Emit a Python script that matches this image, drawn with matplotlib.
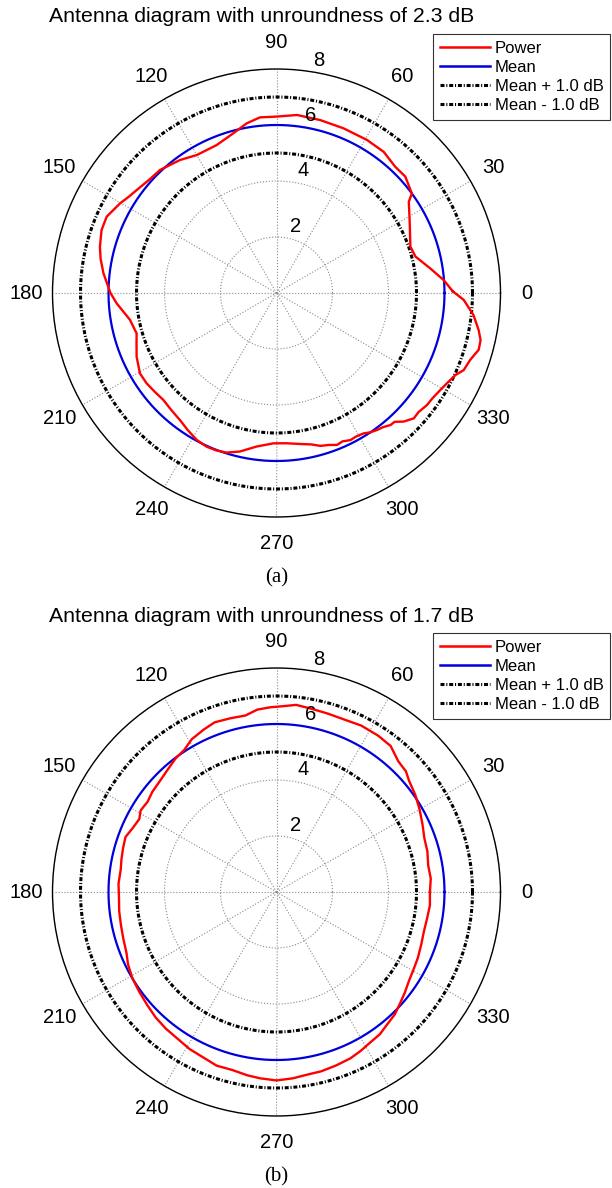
import numpy as np
import matplotlib.pyplot as plt
from matplotlib.lines import Line2D

plt.rcParams['font.family'] = ['Liberation Sans', 'DejaVu Sans']

#Datos panel (a): angulo en grados, potencia
ang_a = [0.5, 4.4, 9.1, 14.7, 19.1, 24, 28.7, 34.6, 36.3, 42.1, 46.8, 52.8, 59.4, 67.8, 75.8, 83.4,
         90, 95.4, 100, 105.1, 112, 120, 126, 133.4, 138, 143.6, 147, 150.2, 155.8, 160.2, 165.3,
         169, 173.5, 180, 183.7, 190.4, 196.1, 200, 204.5, 210.5, 214.8, 219, 223.4, 228, 232.8,
         237, 241.5, 245.6, 249, 252.7, 257, 262.6, 268.8, 274, 279, 283, 286, 289, 291.7, 294,
         296.7, 299, 301.8, 304, 306.3, 308.5, 310.8, 312.5, 314.7, 317.6, 320, 323.3, 326,
         329.4, 333.4, 335.5, 337.6, 341, 344.3, 347, 349.6, 353.6, 357.9]
pot_a = [6.30, 5.99, 5.56, 5.13, 5.06, 5.22, 5.42, 5.74, 6.00, 6.20, 6.19, 6.33, 6.35, 6.35, 6.37, 6.40,
         6.30, 6.30, 6.15, 5.91, 5.70, 5.69, 5.87, 6.05, 6.08, 6.20, 6.30, 6.44, 6.65, 6.64, 6.52,
         6.40, 6.22, 5.93, 5.72, 5.32, 5.20, 5.32, 5.49, 5.66, 5.65, 5.60, 5.56, 5.62, 5.70,
         5.83, 5.97, 6.03, 6.02, 5.97, 5.81, 5.53, 5.37, 5.38, 5.46, 5.55, 5.68, 5.74, 5.84, 5.80,
         5.88, 5.86, 5.90, 6.00, 6.07, 6.12, 6.23, 6.24, 6.46, 6.64, 6.62, 6.70, 6.72,
         6.80, 6.94, 7.04, 7.23, 7.32, 7.50, 7.48, 7.34, 7.08, 6.69]
media_a = 6.0
unround_a = 2.3

#Datos panel (b)
ang_b = [0, 5, 10, 15, 20, 25, 30, 35, 40, 43, 47, 52, 57, 63, 68, 74, 79, 84, 88, 92, 96, 100,
         105, 110, 114, 119, 123, 127, 132, 137, 141, 145, 149, 152, 156, 160, 164, 168, 172,
         177, 182, 187, 192, 197, 202, 206, 211, 216, 221, 226, 231, 236, 241, 246, 251, 256,
         261, 265, 270, 275, 279, 284, 289, 294, 298, 302, 306, 310, 314, 318, 322, 326, 330,
         335, 340, 345, 350, 355]
pot_b = [5.48, 5.53, 5.50, 5.58, 5.62, 5.75, 5.90, 6.05, 6.18, 6.32, 6.38, 6.62, 6.66, 6.67, 6.62,
         6.63, 6.66, 6.72, 6.64, 6.60, 6.55, 6.40, 6.42, 6.45, 6.36, 6.24, 6.05, 5.98, 5.84, 5.74,
         5.70, 5.62, 5.66, 5.55, 5.62, 5.74, 5.70, 5.66, 5.62, 5.65, 5.63, 5.66, 5.68, 5.72, 5.78,
         5.90, 6.00, 6.06, 6.13, 6.22, 6.28, 6.32, 6.41, 6.46, 6.56, 6.55, 6.63, 6.68, 6.73, 6.68,
         6.62, 6.60, 6.55, 6.50, 6.42, 6.33, 6.28, 6.16, 6.08, 5.94, 5.82, 5.70, 5.63, 5.57, 5.50,
         5.45, 5.46, 5.50]
media_b = 6.0
unround_b = 1.7

delta = 1.0
rticks = [2, 4, 6, 8]
tticks = [0, 30, 60, 90, 120, 150, 180, 210, 240, 270, 300, 330]

W, H = 612, 1188
fig = plt.figure(figsize=(W / 100, H / 100), dpi=100)


def panel(ang, pot, media, unround, cy, letra):
    #cy = centro vertical del polar en pixeles desde arriba
    R = 224
    ax = fig.add_axes([(276.5 - R) / W, (H - cy - R) / H, 2 * R / W, 2 * R / H], projection='polar')
    th = np.deg2rad(np.append(ang, ang[0]))
    rr = np.append(pot, pot[0])
    tc = np.deg2rad(np.arange(0, 361))
    ax.plot(th, rr, color='#ff0000', linewidth=1.7, zorder=5)
    ax.plot(tc, np.full(tc.size, media), color='#0000dd', linewidth=1.6, zorder=4)
    dash = (0, (1.3, 0.6, 0.35, 0.6))
    ax.plot(tc, np.full(tc.size, media + delta), color='black', linewidth=2.2, linestyle=dash, zorder=3)
    ax.plot(tc, np.full(tc.size, media - delta), color='black', linewidth=2.2, linestyle=dash, zorder=3)
    ax.set_ylim(0, 8)
    ax.set_rgrids(rticks, labels=[''] * len(rticks))
    ax.set_thetagrids(tticks, [str(t) for t in tticks], fontsize=14.5)
    ax.tick_params(axis='x', pad=12, length=0)
    ax.grid(True, color='#8a8a8a', linestyle=':', linewidth=0.8)
    ax.spines['polar'].set_linewidth(1.0)
    #etiquetas radiales
    for r in rticks:
        ax.annotate(str(r), xy=(np.deg2rad(82), r), xytext=(8, 8), textcoords='offset points',
                    ha='center', va='center', fontsize=14.5, zorder=6)
    #titulo y leyenda
    fig.text(261.5 / W, 1 - (cy - 276) / H, 'Antenna diagram with unroundness of %.1f dB' % unround,
             ha='center', va='center', fontsize=15.3)
    handles = [Line2D([], [], color='#ff0000', linewidth=1.8),
               Line2D([], [], color='#0000dd', linewidth=1.8),
               Line2D([], [], color='black', linewidth=2.2, linestyle=dash),
               Line2D([], [], color='black', linewidth=2.2, linestyle=dash)]
    labels = ['Power', 'Mean', 'Mean + %.1f dB' % delta, 'Mean - %.1f dB' % delta]
    leg = fig.legend(handles, labels, loc='upper left', bbox_to_anchor=(433 / W, 1 - (cy - 259) / H),
                     fontsize=12, handlelength=3.0, handletextpad=0.3, labelspacing=0.25,
                     borderpad=0.4, borderaxespad=0, fancybox=False, framealpha=1, edgecolor='#333333')
    leg.get_frame().set_linewidth(0.8)
    fig.text(276.5 / W, 1 - (cy + 285) / H, letra, ha='center', va='center', fontsize=15,
             family='Liberation Serif')


panel(ang_a, pot_a, media_a, unround_a, 293, '(a)')
panel(ang_b, pot_b, media_b, unround_b, 892, '(b)')

fig.savefig('out.png', dpi=100)
